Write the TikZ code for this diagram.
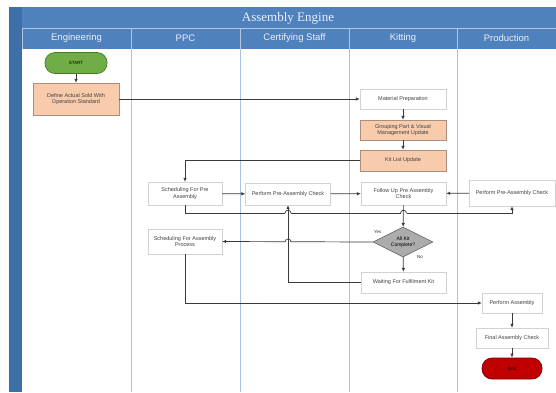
\documentclass[tikz,border=0pt]{standalone}
\usepackage{fontspec}
\setmainfont{Liberation Sans}
\newfontfamily\titlefont{Liberation Serif}
\usepackage{tikz}
\usetikzlibrary{arrows.meta}
\usetikzlibrary{calc}
\usetikzlibrary{shapes.geometric}
\definecolor{hblue}{HTML}{4F81BD}
\definecolor{sblue}{HTML}{3E6FA8}
\definecolor{lanecol}{HTML}{A9C2E2}
\definecolor{salmon}{HTML}{F8CBAD}
\definecolor{sgreen}{HTML}{70AD47}
\definecolor{dgreen}{HTML}{3F7A22}
\definecolor{sred}{HTML}{C00000}
\definecolor{dred}{HTML}{7A0000}
\definecolor{linecol}{HTML}{3A3A3A}
\newcommand{\linehop}[1]{%
  \draw[white,line width=1.6pt] ($(#1)+(-3,0)$) -- ($(#1)+(3,0)$);
  \draw[linecol,line width=0.7pt] ($(#1)+(-3,0)$) arc[start angle=180,end angle=0,radius=3pt];}

\begin{document}
\begin{tikzpicture}[x=1pt,y=-1pt,
  box/.style={draw=gray!35,fill=white,inner sep=1pt,align=center,
    font=\fontsize{5.5}{6.5}\selectfont,text=black!75},
  term/.style={rounded corners=10pt,minimum width=62pt,minimum height=21pt,
    line width=0.7pt,font=\fontsize{4.5}{5}\selectfont},
  hdr/.style={text=white!88!hblue,font=\fontsize{9.5}{11}\selectfont},
  lbl/.style={font=\fontsize{4.5}{5}\selectfont,text=black!80},
  flow/.style={draw=linecol,line width=0.7pt,-{Latex[length=4pt,width=3.5pt]}}]
\useasboundingbox (0,0) rectangle (556,392);
\fill[hblue] (9,7) rectangle (556,49);
\fill[sblue] (9,7) rectangle (22,392);
\draw[white!55!hblue] (22,28) -- (556,28);
\draw[white!55!hblue] (22,28) -- (22,49);
\foreach \x in {131,240,349,457} {
  \draw[white!55!hblue] (\x,28) -- (\x,49);
  \draw[lanecol,line width=0.8pt] (\x,49) -- (\x,392);
}
\node[text=white!88!hblue,font=\titlefont\fontsize{13}{15}\selectfont] (title) at (288,18) {Assembly Engine};
\node[hdr] (leng) at (76.5,38.5) {Engineering};
\node[hdr] (lppc) at (185.5,38.5) {PPC};
\node[hdr] (lcert) at (294.5,38.5) {Certifying Staff};
\node[hdr] (lkit) at (403,38.5) {Kitting};
\node[hdr] (lprod) at (506.5,38.5) {Production};

\node[term,fill=sgreen,draw=dgreen] (start) at (76,63) {START};
\node[box,fill=salmon,draw=salmon!70!black,minimum width=86pt,minimum height=32pt] (define) at (76,99) {Define Actual Sold With\\Operation Standard};
\node[box,minimum width=86pt,minimum height=20pt] (matprep) at (403,99) {Material Preparation};
\node[box,fill=salmon,draw=salmon!70!black,minimum width=86pt,minimum height=20pt] (grouping) at (403,130) {Grouping Part \& Visual\\Management Update};
\node[box,fill=salmon,draw=salmon!70!black,minimum width=86pt,minimum height=21pt] (kitlist) at (403,160.5) {Kit List Update};
\node[box,minimum width=74pt,minimum height=23pt] (schedpre) at (185,193.5) {Scheduling For Pre\\Assembly};
\node[box,minimum width=85pt,minimum height=22pt] (checkcs) at (288,194) {Perform Pre-Assembly Check};
\node[box,minimum width=85pt,minimum height=23pt] (followup) at (403.5,193.5) {Follow Up Pre Assembly\\Check};
\node[box,minimum width=86pt,minimum height=26pt] (checkprod) at (512,193) {Perform Pre-Assembly Check};
\node[box,minimum width=74pt,minimum height=25pt] (schedasm) at (185,241.5) {Scheduling For Assembly\\Process};
\node[diamond,aspect=2,draw=black!70,fill=gray!65,inner sep=0pt,minimum width=60pt,minimum height=30pt,align=center,font=\fontsize{5}{6}\selectfont] (kitok) at (403,242) {All Kit\\Complete?};
\node[box,minimum width=85pt,minimum height=21pt] (waiting) at (403.5,282.5) {Waiting For Fulfilment Kit};
\node[box,minimum width=60pt,minimum height=20pt] (perfasm) at (512,303) {Perform Assembly};
\node[box,minimum width=72pt,minimum height=20pt] (final) at (512,338) {Final Assembly Check};
\node[term,fill=sred,draw=dred,minimum width=60pt] (finish) at (512,368.5) {End};
\node[lbl] (yes) at ($(kitok.west)+(5,-10)$) {Yes};
\node[lbl] (no) at ($(kitok.south)+(17,0)$) {No};

\draw[flow] (start) -- (define);
\draw[flow] (define) -- (matprep);
\draw[flow] (matprep) -- (grouping);
\draw[flow] (grouping) -- (kitlist);
\draw[flow] (kitlist.west) -| (schedpre.north);
\draw[flow] (schedpre) -- (checkcs);
\draw[flow] (checkcs) -- (followup);
\draw[flow] (checkprod) -- (followup);
\draw[flow] (schedpre.south) -- ++(0,8) coordinate (bendA) -| (checkprod.south);
\linehop{bendA -| checkcs.south}
\linehop{bendA -| followup.south}
\draw[flow] (kitok.west) -- (schedasm.east);
\linehop{kitok.west -| checkcs.south}
\draw[flow] (followup) -- (kitok);
\draw[flow] (kitok) -- (waiting);
\draw[flow] (waiting.west) -| (checkcs.south);
\draw[flow] (schedasm.south) |- (perfasm.west);
\draw[flow] (perfasm) -- (final);
\draw[flow] (final) -- (finish);
\end{tikzpicture}
\end{document}
